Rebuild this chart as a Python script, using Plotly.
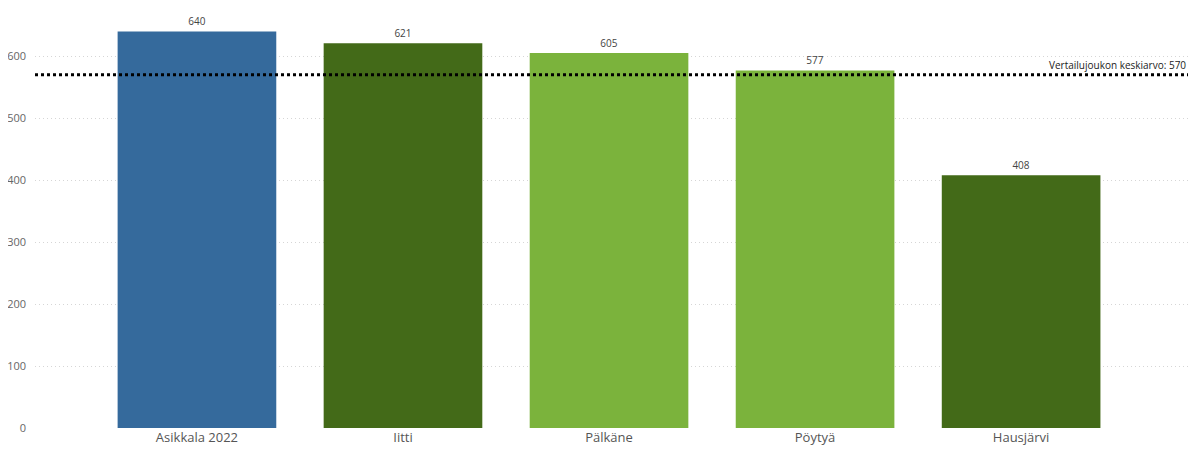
import plotly.graph_objects as go

categories = ["Asikkala 2022", "Iitti", "Pälkäne", "Pöytyä", "Hausjärvi"]
values = [640, 621, 605, 577, 408]
colors = ["#356A9C", "#436A18", "#7BB33C", "#7BB33C", "#436A18"]
avg_value = 570
avg_label = "Vertailujoukon keskiarvo: 570"
y_ticks = [0, 100, 200, 300, 400, 500, 600]

fig = go.Figure()
fig.add_trace(go.Bar(
    x=categories, y=values, marker=dict(color=colors, line=dict(width=0)),
    width=0.77, text=[str(v) for v in values], textposition="outside",
    textfont=dict(size=10, color="#444444", family="Segoe UI, Open Sans, sans-serif"),
    cliponaxis=False, hoverinfo="x+y",
))
fig.add_shape(type="line", xref="paper", yref="y", x0=0, x1=1, y0=avg_value, y1=avg_value,
              line=dict(color="black", width=3, dash="dot"))
fig.add_annotation(xref="paper", yref="y", x=1, y=avg_value, text=avg_label,
                   showarrow=False, xanchor="right", yanchor="bottom", yshift=1,
                   font=dict(size=10, color="#222222", family="Segoe UI, Open Sans, sans-serif"))

fig.update_layout(
    width=1189, height=444,
    margin=dict(l=27, r=9, t=11, b=24),
    plot_bgcolor="white", paper_bgcolor="white",
    showlegend=False,
    font=dict(family="Segoe UI, Open Sans, sans-serif"),
)
fig.update_xaxes(range=[-0.786, 4.81], showgrid=False, showline=False, ticks="",
                 automargin=False, tickfont=dict(size=13, color="#555555"))
fig.update_yaxes(range=[0, 660], tickvals=y_ticks, showgrid=True, gridcolor="#D6D6D6",
                 griddash="1px,3px", gridwidth=1, zeroline=False, showline=False,
                 automargin=False, tickfont=dict(size=11, color="#666666"), ticklabelstandoff=8)

fig.write_html("out.html")
